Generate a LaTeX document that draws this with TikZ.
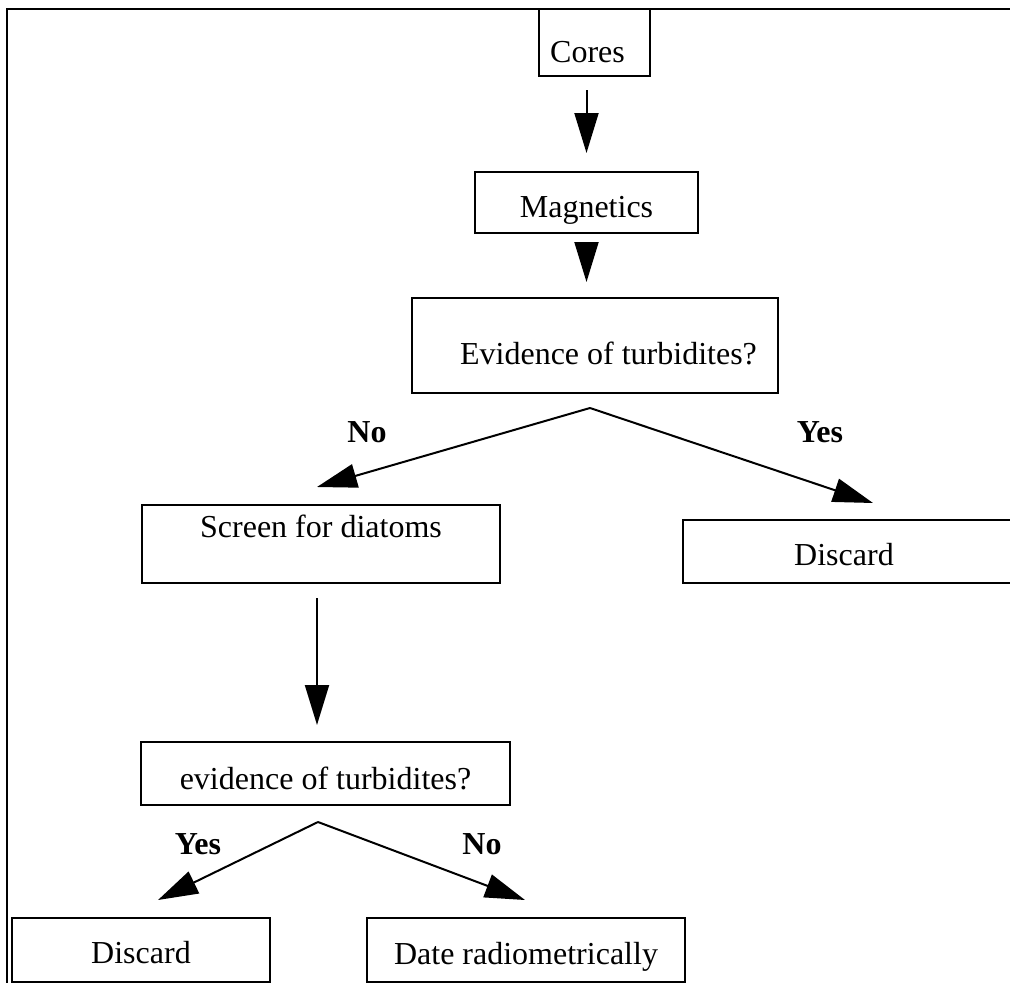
\documentclass[tikz,border=0pt]{standalone}
\usepackage{fontspec}
\setmainfont{Liberation Serif}
\usetikzlibrary{arrows.meta}
\begin{document}
\begin{tikzpicture}[x=1pt,y=-1pt,
  box/.style={draw, line width=2.1pt, inner sep=0pt, outer sep=0pt,
    font=\fontsize{32}{38}\selectfont},
  lbl/.style={font=\fontsize{32}{38}\selectfont\bfseries, inner sep=0pt},
  arr/.style={line width=2pt, -{Triangle[length=40pt,width=24pt]}}]
\useasboundingbox (0,0) rectangle (1010,983);
\clip (0,0) rectangle (1010,983);
% frame
\draw[line width=2.8pt] (7,983) -- (7,9) -- (1010,9);
% nodes
\node[box, minimum width=111pt, minimum height=67pt, text height=40pt, text depth=0pt]
  (cores) at (594.5,42.5) {\hspace*{-14pt}Cores};
\node[box, minimum width=223pt, minimum height=61pt, text height=29pt, text depth=0pt]
  (mag) at (586.5,202.5) {Magnetics};
\node[box, minimum width=366pt, minimum height=95pt, text height=38pt, text depth=0pt]
  (ev1) at (595,345.5) {\hspace*{27pt}Evidence of turbidites?};
\node[box, minimum width=358pt, minimum height=78pt, text height=0pt, text depth=14pt]
  (screen) at (321,544) {Screen for diatoms};
\node[box, minimum width=329pt, minimum height=63pt, text height=28pt, text depth=0pt]
  (discR) at (847.5,551.5) {\hspace*{-7pt}Discard};
\node[box, minimum width=369pt, minimum height=63pt, text height=31pt, text depth=0pt]
  (ev2) at (325.5,773.5) {evidence of turbidites?};
\node[box, minimum width=258pt, minimum height=64pt, text height=27pt, text depth=0pt]
  (discL) at (141,950) {Discard};
\node[box, minimum width=318pt, minimum height=64pt, text height=29pt, text depth=0pt]
  (date) at (526,950) {Date radiometrically};
% branch points and tips
\coordinate (apex1) at (590,408);
\coordinate (tipA) at (317,487);
\coordinate (tipB) at (873,503);
\coordinate (apex2) at (318,822);
\coordinate (tipC) at (158,900);
\coordinate (tipD) at (525,900);
% connectors
\draw[arr, shorten <=14pt, shorten >=19pt] (cores.south -| mag.north) -- (mag.north);
\draw[arr, shorten <=9pt, shorten >=16pt] (mag.south) -- (ev1.north -| mag.south);
\draw[arr] (apex1) -- (tipA);
\draw[arr] (apex1) -- (tipB);
\draw[arr, shorten <=15pt, shorten >=17pt] ([xshift=-4pt]screen.south) -- ([xshift=-4pt]screen.south |- ev2.north);
\draw[arr] (apex2) -- (tipC);
\draw[arr] (apex2) -- (tipD);
% labels
\node[lbl] (no1) at (367,432) {No};
\node[lbl] (yes1) at (820,432) {Yes};
\node[lbl] (yes2) at (198,844) {Yes};
\node[lbl] (no2) at (482,844) {No};
\end{tikzpicture}
\end{document}
